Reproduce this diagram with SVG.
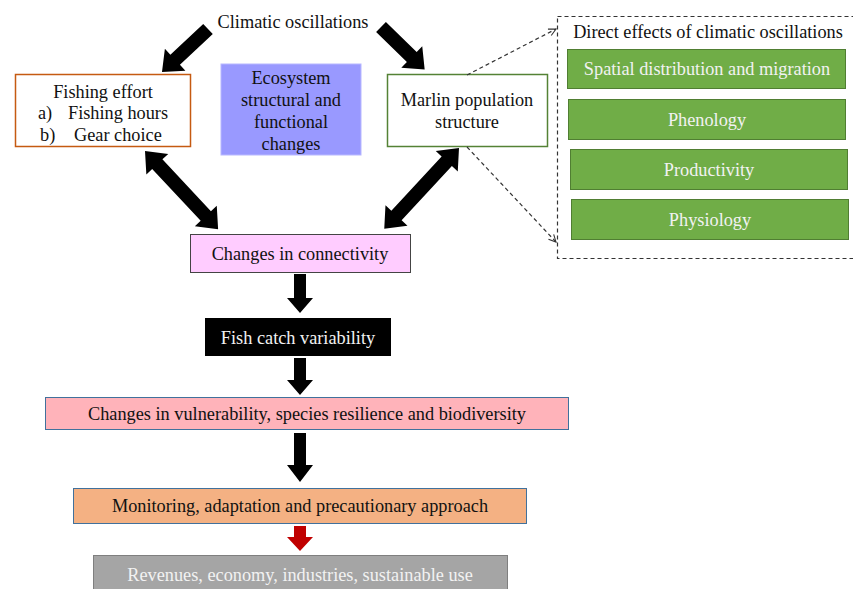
<svg xmlns="http://www.w3.org/2000/svg" width="853" height="589" viewBox="0 0 853 589" font-family="'Liberation Serif', 'DejaVu Serif', serif" font-size="18.3">
<defs>
<style>
text{font-family:'Liberation Serif','Times New Roman',serif;font-size:18.3px;text-anchor:middle;fill:#111}
.w{fill:#f2f2f2}
.green{fill:#70AD47;stroke:#507E32;stroke-width:1}
.dash{fill:none;stroke:#333;stroke-width:1.2;stroke-dasharray:4,3}
.arr{fill:#000}
</style>
<marker id="open" viewBox="0 0 10 10" refX="9" refY="5" markerWidth="9" markerHeight="9" orient="auto" markerUnits="userSpaceOnUse">
<path d="M1,1 L9,5 L1,9" fill="none" stroke="#333" stroke-width="1.2"/>
</marker>
</defs>
<rect width="853" height="589" fill="#fff"/>

<g id="climatic"><text x="293" y="28">Climatic oscillations</text></g>

<g id="fishing-effort">
<rect x="15.5" y="74.5" width="175" height="72" fill="#fff" stroke="#C55A11" stroke-width="1.5"/>
<text x="103" y="98">Fishing effort</text>
<text x="38" y="119" style="text-anchor:start">a)</text>
<text x="68" y="119" style="text-anchor:start">Fishing hours</text>
<text x="40" y="141" style="text-anchor:start">b)</text>
<text x="74" y="141" style="text-anchor:start">Gear choice</text>
</g>

<g id="ecosystem">
<rect x="221" y="64" width="140" height="91" fill="#9999FF" stroke="#b8b8ff" stroke-width="1"/>
<text x="291" y="84">Ecosystem</text>
<text x="291" y="106">structural and</text>
<text x="291" y="128">functional</text>
<text x="291" y="150">changes</text>
</g>

<g id="marlin">
<rect x="387.5" y="74.5" width="160" height="72" fill="#fff" stroke="#548235" stroke-width="1.5"/>
<text x="467" y="106">Marlin population</text>
<text x="467" y="128">structure</text>
</g>

<g id="direct-effects">
<rect x="557.5" y="16.5" width="300" height="242" class="dash"/>
<text x="708" y="38">Direct effects of climatic oscillations</text>
</g>
<g id="spatial"><rect x="567.5" y="49.5" width="278" height="39" class="green"/><text class="w" x="707" y="75">Spatial distribution and migration</text></g>
<g id="phenology"><rect x="568.5" y="99.5" width="277" height="40" class="green"/><text class="w" x="707" y="126">Phenology</text></g>
<g id="productivity"><rect x="570.5" y="149.5" width="277" height="40" class="green"/><text class="w" x="709" y="176">Productivity</text></g>
<g id="physiology"><rect x="571.5" y="199.5" width="277" height="40" class="green"/><text class="w" x="710" y="226">Physiology</text></g>

<g id="connectivity">
<rect x="190.5" y="234.5" width="220" height="38" fill="#FFCCFF" stroke="#444" stroke-width="1"/>
<text x="300" y="260">Changes in connectivity</text>
</g>

<g id="fish-catch">
<rect x="205" y="318" width="186" height="38" fill="#000"/>
<text class="w" x="298" y="344">Fish catch variability</text>
</g>

<g id="vulnerability">
<rect x="45.5" y="397.5" width="523" height="32" fill="#FFB3BA" stroke="#41719C" stroke-width="1"/>
<text x="307" y="420">Changes in vulnerability, species resilience and biodiversity</text>
</g>

<g id="monitoring">
<rect x="73.5" y="488.5" width="453" height="35" fill="#F4B183" stroke="#41719C" stroke-width="1"/>
<text x="300" y="512">Monitoring, adaptation and precautionary approach</text>
</g>

<g id="revenues">
<rect x="93.5" y="555.5" width="414" height="40" fill="#A5A5A5" stroke="#7f7f7f" stroke-width="1"/>
<text class="w" x="300" y="581">Revenues, economy, industries, sustainable use</text>
</g>

<g id="connectors">
<path class="arr" transform="translate(208,29) rotate(136.9)" d="M0,-7 L45,-7 L45,-15 L63,0 L45,15 L45,7 L0,7 Z"/>
<path class="arr" transform="translate(381,27) rotate(44.3)" d="M0,-7 L43,-7 L43,-15 L61,0 L43,15 L43,7 L0,7 Z"/>
<path class="arr" transform="translate(145,151) rotate(46.9)" d="M0,0 L18,-15 L18,-7 L89,-7 L89,-15 L107,0 L89,15 L89,7 L18,7 L18,15 Z"/>
<path class="arr" transform="translate(459,148) rotate(132.8)" d="M0,0 L18,-15 L18,-7 L92,-7 L92,-15 L110,0 L92,15 L92,7 L18,7 L18,15 Z"/>
<path class="arr" d="M294,274 L306,274 L306,298 L313,298 L300,313 L287,298 L294,298 Z"/>
<path class="arr" d="M294,358 L306,358 L306,380 L313,380 L300,395 L287,380 L294,380 Z"/>
<path class="arr" d="M294,433 L306,433 L306,465 L313,465 L300,482 L287,465 L294,465 Z"/>
<path fill="#C00000" d="M294,526 L306,526 L306,537 L313,537 L300,551 L287,537 L294,537 Z"/>
<line x1="467" y1="75" x2="556" y2="29" class="dash" marker-end="url(#open)"/>
<line x1="467" y1="147" x2="556" y2="242" class="dash" marker-end="url(#open)"/>
</g>
</svg>
